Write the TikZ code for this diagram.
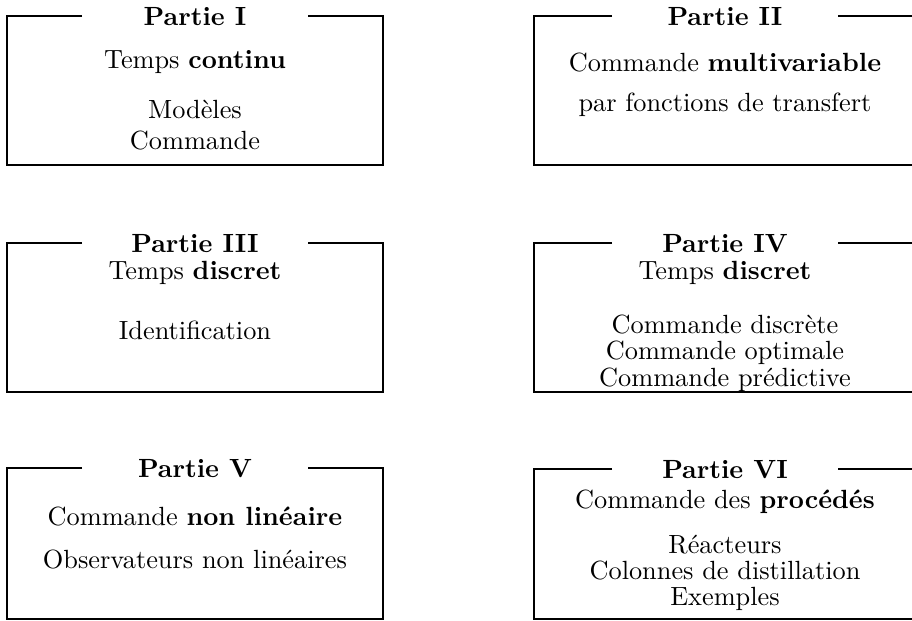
\documentclass[tikz,border=0pt]{standalone}
\usepackage{tikz}
\usetikzlibrary{calc}

\begin{document}
\begin{tikzpicture}[
    x=0.38pt, y=-0.38pt,
    cadre/.style={line width=1pt},
    titre/.style={font=\bfseries, inner sep=0pt, text height=6.9pt, text depth=0pt},
    texte/.style={align=center, inner sep=0pt}
]
\clip (0,0) rectangle (912,621);

% ================= PARTIE I =================
\node[titre] (P1) at (195,16) {Partie I};
\node[texte] (P1a) at (195,62) {Temps \textbf{continu}};
\node[texte] (P1b) at (195,125) {Modèles\\Commande};
\draw[cadre] ($(P1)+(-113,0)$) -- (7,16) -- (7,165) -- (383,165) -- (383,16) -- ($(P1)+(113,0)$);

% ================= PARTIE II =================
\node[titre] (P2) at (725,16) {Partie II};
\node[texte] (P2a) at (725,63) {Commande \textbf{multivariable}};
\node[texte] (P2b) at (725,105) {par fonctions de transfert};
\draw[cadre] ($(P2)+(-113,0)$) -- (534,16) -- (534,165) -- (916,165) -- (916,16) -- ($(P2)+(113,0)$);

% ================= PARTIE III =================
\node[titre] (P3) at (195,243) {Partie III};
\node[texte] (P3a) at (195,273) {Temps \textbf{discret}};
\node[texte] (P3b) at (195,330) {Identification};
\draw[cadre] ($(P3)+(-113,0)$) -- (7,243) -- (7,392) -- (383,392) -- (383,243) -- ($(P3)+(113,0)$);

% ================= PARTIE IV =================
\node[titre] (P4) at (725,243) {Partie IV};
\node[texte] (P4a) at (725,273) {Temps \textbf{discret}};
\node[texte] (P4b) at (725,353) {Commande discrète\\[-2pt]Commande optimale\\[-2pt]Commande prédictive};
\draw[cadre] ($(P4)+(-113,0)$) -- (534,243) -- (534,392) -- (916,392) -- (916,243) -- ($(P4)+(113,0)$);

% ================= PARTIE V =================
\node[titre] (P5) at (195,468) {Partie V};
\node[texte] (P5a) at (195,517) {Commande \textbf{non linéaire}};
\node[texte] (P5b) at (195,560) {Observateurs non linéaires};
\draw[cadre] ($(P5)+(-113,0)$) -- (7,468) -- (7,619) -- (383,619) -- (383,468) -- ($(P5)+(113,0)$);

% ================= PARTIE VI =================
\node[titre] (P6) at (725,469) {Partie VI};
\node[texte] (P6a) at (725,502) {Commande des \textbf{procédés}};
\node[texte] (P6b) at (725,573) {Réacteurs\\[-2pt]Colonnes de distillation\\[-2pt]Exemples};
\draw[cadre] ($(P6)+(-113,0)$) -- (534,469) -- (534,619) -- (916,619) -- (916,469) -- ($(P6)+(113,0)$);

\end{tikzpicture}
\end{document}
